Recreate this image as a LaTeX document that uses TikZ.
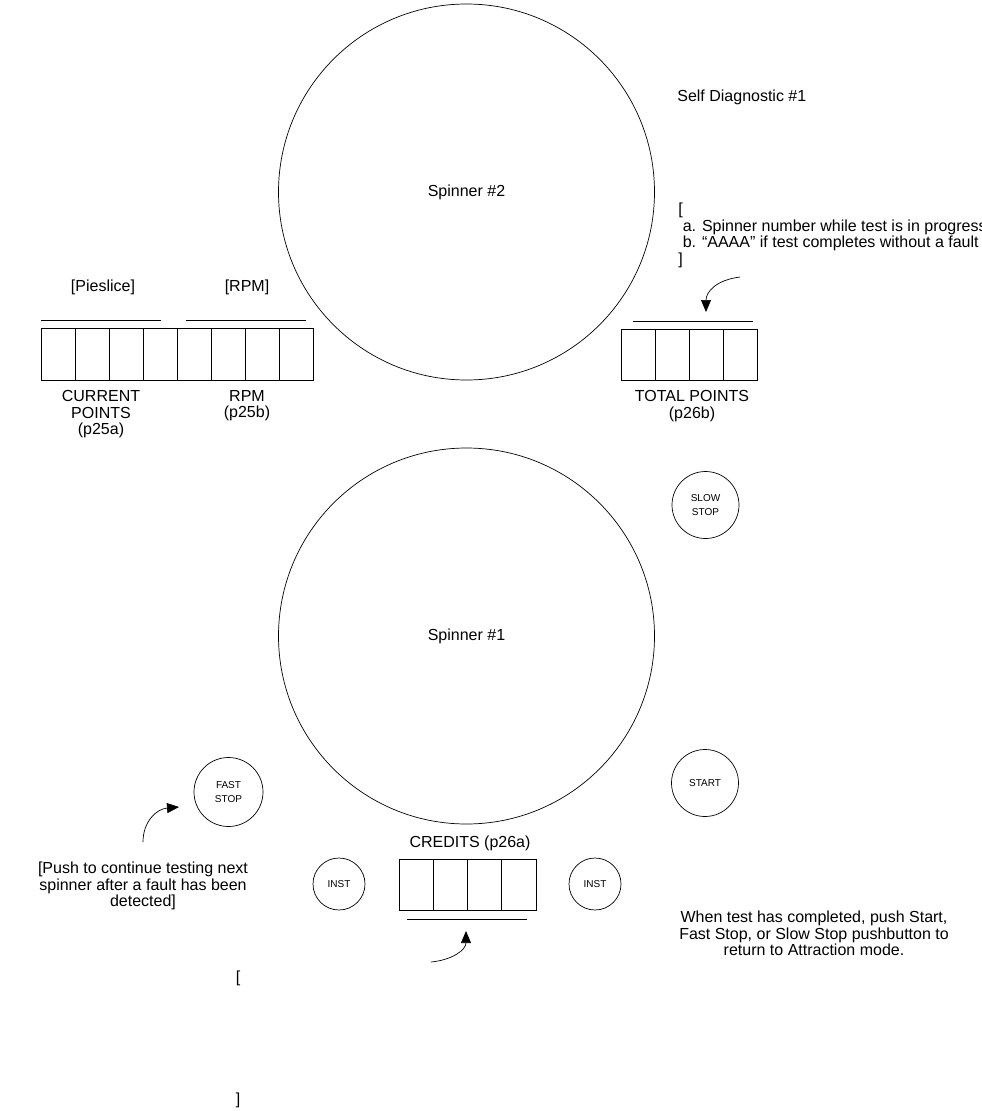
\documentclass[tikz,border=0pt]{standalone}
\usepackage{fontspec}
\setmainfont{Liberation Sans}
\usetikzlibrary{arrows.meta,positioning}

\begin{document}
\begin{tikzpicture}[x=1pt, y=-1pt, line width=0.7pt,
  every node/.style={font=\fontsize{16}{16.5}\selectfont, inner sep=0pt},
  spinner/.style={draw, circle, minimum size=376pt},
  button/.style={draw, circle, minimum size=#1, align=center, font=\fontsize{10}{13.5}\selectfont},
  pointer/.style={-{Triangle[length=12pt,width=10pt]}}]
  \clip (0,0) rectangle (982,1111);
  % spinners
  \node[spinner] (spin2) at (466.5,192) {Spinner \#2};
  \node[spinner] (spin1) at (466.5,636) {Spinner \#1};
  % pushbuttons
  \node[button=67pt] (slow)  at (705.5,505) {SLOW\\STOP};
  \node[button=67pt] (start) at (705,783)   {START};
  \node[button=69pt] (fast)  at (228.5,792) {FAST\\STOP};
  \node[button=52pt] (instL) at (339,884)   {INST};
  \node[button=52pt] (instR) at (595,884)   {INST};
  % displays
  \foreach \k in {0,...,7}
    \draw (41+\k*34.1,328) rectangle ++(34.1,52);
  \foreach \k in {0,...,3} {
    \draw (621+\k*34,329) rectangle ++(34,51);
    \draw (399+\k*34.25,859) rectangle ++(34.25,51);
  }
  \draw (41,320) -- (161,320);
  \draw (186,320) -- (306,320);
  \draw (633,321) -- (753,321);
  \draw (407,919) -- (527,919);
  % labels
  \node (pie) at (103,287) {[Pieslice]};
  \node (rpmtag) at (247,287) {[RPM]};
  \node[anchor=north, align=center] (curpts) at (101,390) {CURRENT\\POINTS\\(p25a)};
  \node[anchor=north, align=center] (rpm) at (247,390) {RPM\\(p25b)};
  \node[anchor=north, align=center] (totpts) at (692,390) {TOTAL POINTS\\(p26b)};
  \node (credits) at (470,843) {CREDITS (p26a)};
  \node[anchor=west] (diag) at (677,97) {Self Diagnostic \#1};
  \node[anchor=north west, align=left] (diagnote) at (678,203)
    {[\\\ a. Spinner number while test is in progress\\\ b. “AAAA” if test completes without a fault\\]};
  \node[anchor=north, align=center] (fastnote) at (143,862)
    {[Push to continue testing next\\spinner after a fault has been\\detected]};
  \node[anchor=north, align=center] (endnote) at (814,911)
    {When test has completed, push Start,\\Fast Stop, or Slow Stop pushbutton to\\return to Attraction mode.};
  \node (lbrack) at (238,978) {[};
  \node (rbrack) at (238,1100) {]};
  % pointers
  \coordinate (tpTail) at (740,277);
  \coordinate (tpTip) at (706,312);
  \draw[pointer] (tpTail) .. controls (716,280) and (706,292) .. (tpTip);
  \coordinate (fsTail) at (143,842);
  \coordinate (fsTip) at (179,807);
  \draw[pointer] (fsTail) .. controls (143,822) and (156,809) .. (fsTip);
  \coordinate (crTail) at (431,962);
  \coordinate (crTip) at (466,931);
  \draw[pointer] (crTail) .. controls (452,960) and (466,950) .. (crTip);
\end{tikzpicture}
\end{document}
